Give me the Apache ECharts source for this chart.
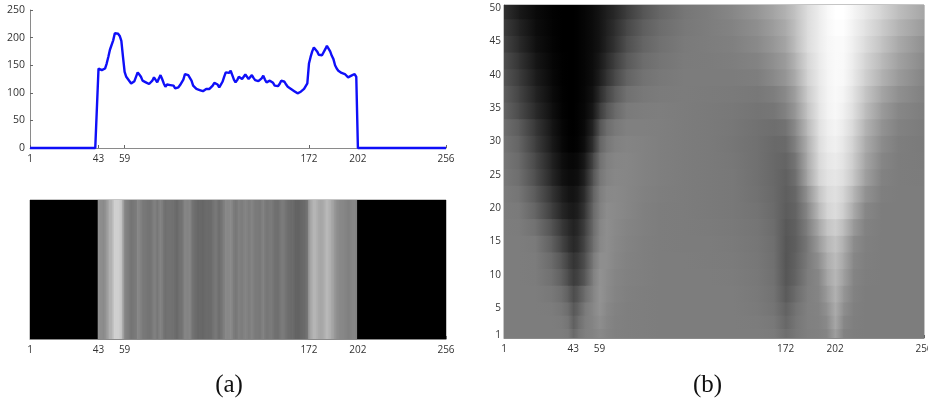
<!DOCTYPE html>
<html><head><meta charset="utf-8">
<style>html,body{margin:0;padding:0;background:#fff}#c{width:928px;height:403px}</style>
<script src="https://cdn.jsdelivr.net/npm/echarts@6/dist/echarts.min.js"></script>
</head><body><div id="c"></div>
<script>
const positionTicks = [1, 43, 59, 172, 202, 256];
const amplitudeTicks = [0, 50, 100, 150, 200, 250];
const scaleTicks = [1, 5, 10, 15, 20, 25, 30, 35, 40, 45, 50];
const captions = ['(a)', '(b)'];

const profile = [
0,0,0,0,0,0,0,0,0,0,0,0,0,0,0,0,0,0,0,0,0,0,0,0,0,0,0,0,0,0,0,0,0,0,0,0,0,0,0,0,0,0,
144,142,141,138,144,153,165,178,178,195,208,208,207,203,194,165,138,129,127,121,117,118,121,123,137,133,129,122,120,119,116,116,116,122,128,127,119,126,132,125,117,111,115,114,114,113,113,108,105,110,114,114,124,134,132,132,134,122,113,110,107,104,105,104,103,105,107,107,107,108,113,118,121,115,110,115,120,129,137,135,136,140,132,124,119,123,129,126,125,129,133,130,125,128,132,127,123,122,121,121,126,131,124,119,120,122,123,118,113,112,112,116,122,123,120,115,111,109,107,108,103,100,99,100,102,104,107,110,117,153,165,175,182,181,175,169,166,168,171,179,185,180,175,167,161,150,144,140,137,136,135,134,131,128,129,131,133,134,129,
0,0,0,0,0,0,0,0,0,0,0,0,0,0,0,0,0,0,0,0,0,0,0,0,0,0,0,0,0,0,0,0,0,0,0,0,0,0,0,0,0,0,0,0,0,0,0,0,0,0,0,0,0,0,0];

const nodePositions = [1,10,20,30,36,40,43,46,50,55,59,63,68,75,85,95,110,125,140,155,165,172,178,185,192,197,202,207,213,220,230,240,256];
const scaleLevels = [1,3,5,7,10,12,15,17,20,22,25,27,30,32,35,37,40,42,45,47,50];
const scale1  = [125,125,125,125,125,122,105,118,127,131,137,132,128,127,126,125,125,125,125,125,123,110,120,127,129,133,160,130,126,125,125,125,125];
const scale3  = [125,125,125,125,123,116,95,110,125,133,142,134,129,127,126,125,125,125,125,124,120,103,118,128,130,138,168,135,127,125,125,125,125];
const scale5  = [125,125,125,124,118,108,88,100,122,135,146,136,130,127,126,125,125,125,125,122,116,98,115,128,131,145,172,142,128,125,125,125,125];
const scale7  = [125,125,125,120,110,95,76,88,110,132,147,139,132,128,126,125,125,125,125,121,114,90,108,127,133,154,178,150,130,125,125,125,125];
const scale10 = [125,125,124,112,95,75,60,68,88,128,146,140,133,129,127,125,125,125,124,120,112,86,100,125,135,165,183,160,132,126,125,125,125];
const scale12 = [125,125,124,106,85,65,52,60,80,122,142,142,135,130,127,125,125,124,123,119,111,85,98,122,143,172,188,167,135,127,125,125,125];
const scale15 = [125,125,122,95,68,50,40,48,72,112,135,142,136,131,127,125,124,124,122,118,110,86,95,120,155,182,195,175,140,128,125,125,125];
const scale17 = [125,124,113,82,56,42,34,42,65,108,133,142,137,132,128,125,124,123,121,117,108,88,97,127,168,196,206,188,153,130,125,125,125];
const scale20 = [124,122,100,62,38,28,25,32,55,105,128,140,138,134,128,125,124,122,120,115,106,92,100,135,185,212,220,205,170,135,125,125,125];
const scale22 = [123,117,90,52,30,20,19,26,47,98,125,136,137,134,129,126,124,122,120,113,105,94,104,146,196,218,224,212,182,146,127,125,125];
const scale25 = [120,110,78,38,18,12,12,16,35,85,118,130,135,134,130,127,124,122,120,112,104,96,112,165,212,226,230,222,198,160,130,125,124];
const scale27 = [118,106,72,33,14,8,7,11,26,72,112,127,133,134,130,127,124,122,119,112,104,100,118,170,216,230,235,226,203,166,134,125,123];
const scale30 = [115,100,62,25,8,2,1,4,15,50,100,118,128,132,130,127,124,122,118,112,105,106,130,175,220,235,240,230,208,172,140,126,122];
const scale32 = [110,92,55,21,6,1,0,3,11,38,85,108,120,128,128,127,124,122,119,113,110,115,140,185,224,238,244,235,215,180,147,130,123];
const scale35 = [100,75,42,15,3,0,0,3,8,24,60,85,105,122,125,126,124,122,120,116,118,130,152,195,228,242,248,240,222,190,155,135,125];
const scale37 = [94,68,35,11,2,0,0,2,7,18,44,68,90,112,120,123,124,123,122,120,126,138,160,202,230,243,249,244,226,198,165,144,128];
const scale40 = [85,60,28,8,1,0,0,2,6,14,30,50,72,98,114,120,124,124,124,126,138,150,172,210,232,244,250,248,232,208,178,155,132];
const scale42 = [78,52,22,6,1,0,0,2,6,13,25,42,62,88,108,116,123,124,126,131,144,156,180,214,234,245,250,249,235,213,186,162,137];
const scale45 = [68,42,16,4,0,0,0,2,6,12,20,34,50,78,100,112,122,125,128,138,152,165,190,220,236,246,250,250,238,220,195,170,143];
const scale47 = [60,35,13,3,0,0,0,2,6,12,20,32,46,70,94,108,120,125,131,143,158,171,192,220,236,247,253,253,241,226,203,180,154];
const scale50 = [48,25,10,2,0,0,0,2,6,12,20,30,40,60,85,102,118,125,135,150,165,178,195,220,236,248,255,255,245,232,212,190,165];
const scaleRows = [scale1,scale3,scale5,scale7,scale10,scale12,scale15,scale17,scale20,scale22,scale25,scale27,scale30,scale32,scale35,scale37,scale40,scale42,scale45,scale47,scale50];

const gray = v => { const g = Math.round(Math.max(0, Math.min(255, v))); return `rgb(${g},${g},${g})`; };

const stripData = profile.map((v, i) => [i + 1, v]);
const lineData = profile.map((v, i) => [i + 1, v]);

const waveletData = [];
scaleRows.forEach((row, r) => {
  const low = r === 0 ? 0.5 : (scaleLevels[r - 1] + scaleLevels[r]) / 2;
  const high = r === scaleLevels.length - 1 ? 50.5 : (scaleLevels[r] + scaleLevels[r + 1]) / 2;
  for (let c = 0; c < nodePositions.length - 1; c++) {
    waveletData.push([nodePositions[c], nodePositions[c + 1], low, high, row[c], row[c + 1]]);
  }
});

const axisCol = '#8a8a8a', textCol = '#333';
const labelFont = { color: textCol, fontFamily: 'Open Sans', fontSize: 10, margin: 6 };
function posAxis(gridIndex, extra) {
  return Object.assign({
    type: 'value', gridIndex, min: 1, max: 256, splitLine: { show: false },
    axisLine: { show: true, onZero: false, lineStyle: { color: axisCol, width: 1 } },
    axisTick: { show: true, inside: true, length: 3, customValues: positionTicks, lineStyle: { color: '#666' } },
    axisLabel: Object.assign({ customValues: positionTicks, showMinLabel: true, showMaxLabel: true, hideOverlap: false }, labelFont)
  }, extra || {});
}
const box = { show: true, borderColor: axisCol, borderWidth: 1 };

const option = {
  animation: false,
  backgroundColor: '#fff',
  title: [
    { text: captions[0], left: 224, top: 368, textAlign: 'center', textStyle: { fontFamily: 'Liberation Serif', fontWeight: 'normal', fontSize: 25, color: '#111' } },
    { text: captions[1], left: 702.5, top: 368, textAlign: 'center', textStyle: { fontFamily: 'Liberation Serif', fontWeight: 'normal', fontSize: 25, color: '#111' } }
  ],
  grid: [
    { left: 30, top: 10, width: 416, height: 138, outerBoundsMode: 'none' },
    Object.assign({ left: 30, top: 200, width: 416, height: 139, outerBoundsMode: 'none' }, box),
    Object.assign({ left: 504, top: 5, width: 420, height: 333, outerBoundsMode: 'none' }, box)
  ],
  xAxis: [posAxis(0), posAxis(1), posAxis(2)],
  yAxis: [
    { type: 'value', gridIndex: 0, min: 0, max: 250, interval: 50, splitLine: { show: false },
      axisLine: { show: true, lineStyle: { color: axisCol } },
      axisTick: { show: true, inside: true, length: 3, lineStyle: { color: '#666' } },
      axisLabel: Object.assign({}, labelFont, { fontSize: 10.5, margin: 5 }) },
    { type: 'value', gridIndex: 1, min: 0, max: 1, show: false },
    { type: 'value', gridIndex: 2, min: 0.5, max: 50.5, splitLine: { show: false },
      axisLine: { show: true, onZero: false, lineStyle: { color: axisCol } },
      axisTick: { show: true, inside: true, length: 3, customValues: scaleTicks, lineStyle: { color: '#666' } },
      axisLabel: Object.assign({ customValues: scaleTicks }, labelFont, { margin: 3 }) }
  ],
  series: [
    { type: 'line', xAxisIndex: 0, yAxisIndex: 0, data: lineData, showSymbol: false, clip: false,
      lineStyle: { color: '#0f0ff8', width: 2.4 } },
    { type: 'custom', xAxisIndex: 1, yAxisIndex: 1, data: stripData, clip: true, z: 1,
      encode: { x: 0 },
      renderItem(params, api) {
        const a = api.coord([api.value(0) - 0.5, 0]);
        const b = api.coord([api.value(0) + 0.5, 1]);
        return { type: 'rect', shape: { x: a[0], y: b[1], width: b[0] - a[0] + 1, height: a[1] - b[1] },
          style: { fill: gray(api.value(1)) } };
      } },
    { type: 'custom', xAxisIndex: 2, yAxisIndex: 2, data: waveletData, clip: true, z: 1,
      encode: { x: [0, 1], y: [2, 3] },
      renderItem(params, api) {
        const a = api.coord([api.value(0), api.value(2)]);
        const b = api.coord([api.value(1), api.value(3)]);
        return { type: 'rect', shape: { x: a[0], y: b[1], width: b[0] - a[0] + 1, height: a[1] - b[1] + 1 },
          style: { fill: new echarts.graphic.LinearGradient(0, 0, 1, 0, [
            { offset: 0, color: gray(api.value(4)) }, { offset: 1, color: gray(api.value(5)) }]) } };
      } }
  ]
};
const chart = echarts.init(document.getElementById('c'), null, { renderer: 'canvas' });
chart.setOption(option);
</script></body></html>
